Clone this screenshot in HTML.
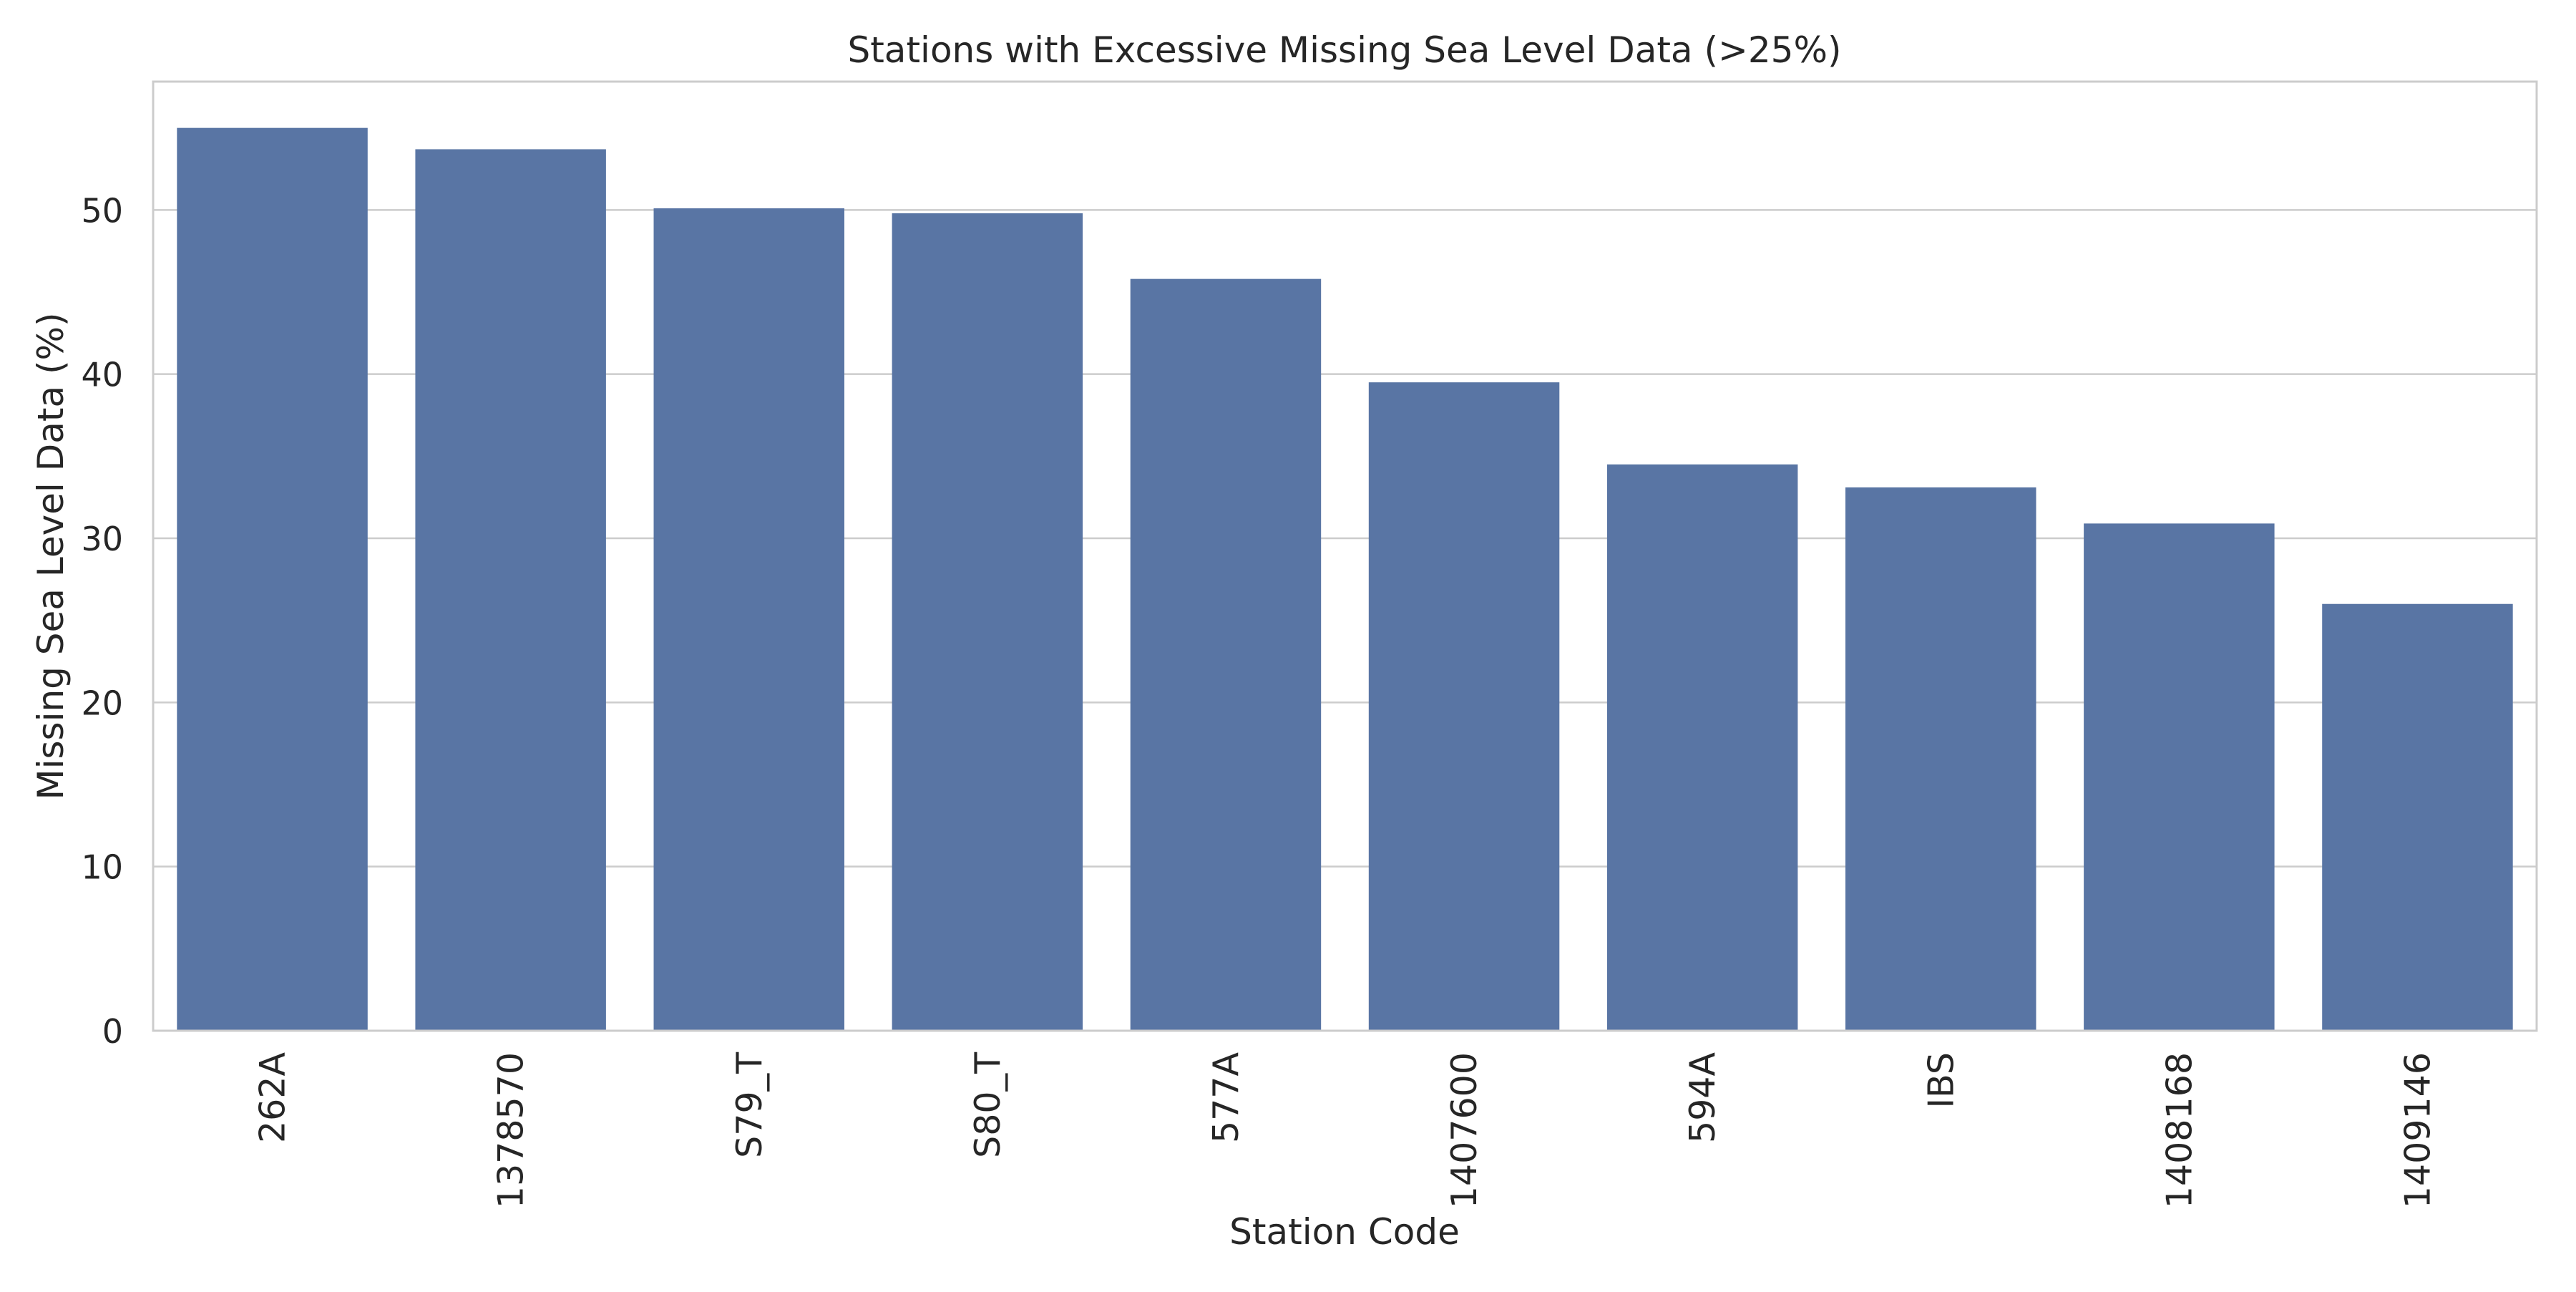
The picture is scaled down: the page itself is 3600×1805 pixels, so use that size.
<!DOCTYPE html>
<html><head><meta charset="utf-8"><style>
html,body{margin:0;padding:0;background:#fff;}
svg text{font-family:"DejaVu Sans","Liberation Sans",sans-serif;fill:#262626;}
</style></head><body>
<svg id="chart" width="3600" height="1800" xmlns="http://www.w3.org/2000/svg">
<text x="1879" y="87" font-size="50" text-anchor="middle">Stations with Excessive Missing Sea Level Data (&gt;25%)</text>
<g id="grid"></g>
<g id="bars"></g>
<g id="ticks"></g>
<rect x="214" y="114" width="3331" height="1326" fill="none" stroke="#cccccc" stroke-width="3"/>
<text transform="translate(88,777) rotate(-90)" font-size="50" text-anchor="middle">Missing Sea Level Data (%)</text>
<text x="1879" y="1738" font-size="50" text-anchor="middle">Station Code</text>
</svg>
<script>
const categories = ["262A","1378570","S79_T","S80_T","577A","1407600","594A","IBS","1408168","1409146"];
const values = [55.0,53.7,50.1,49.8,45.8,39.5,34.5,33.1,30.9,26.0];
const yTicks = [0,10,20,30,40,50];

const NS="http://www.w3.org/2000/svg";
const L=214,R=3545,T=114,B=1440,yMax=57.82;
const y=v=>B-(v/yMax)*(B-T);
const step=(R-L)/categories.length;
const xc=i=>L+step*(i+0.5);
const grid=document.getElementById('grid'),bars=document.getElementById('bars'),ticks=document.getElementById('ticks');
function mk(tag,attrs,parent){const e=document.createElementNS(NS,tag);for(const k in attrs)e.setAttribute(k,attrs[k]);parent.appendChild(e);return e;}
yTicks.forEach(t=>{
  const ln=mk('line',{x1:L,x2:R,y1:y(t),y2:y(t),stroke:'#cccccc','stroke-width':2.5},grid);
  
  
  const tx=mk('text',{x:172,y:y(t)+17,'font-size':46,'text-anchor':'end'},ticks);
  tx.textContent=t;
  
  
});
categories.forEach((c,i)=>{
  const w=step*0.8;
  const r=mk('rect',{x:xc(i)-w/2,y:y(values[i]),width:w,height:B-y(values[i]),fill:'#5975a4'},bars);
  
  
  const tx=mk('text',{transform:`translate(${xc(i)+17},1470) rotate(-90)`,'font-size':49,'text-anchor':'end'},ticks);
  tx.textContent=c;
  
  
});
</script>
</body></html>
